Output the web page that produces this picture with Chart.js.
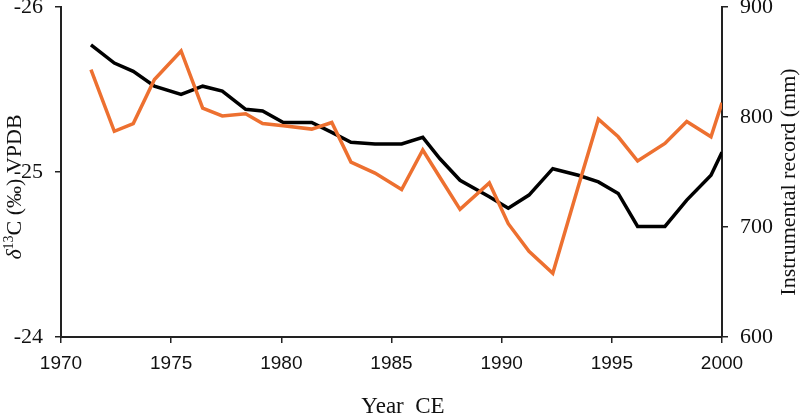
<!DOCTYPE html>
<html>
<head>
<meta charset="utf-8">
<script src="https://cdn.jsdelivr.net/npm/chart.js@4.4.0/dist/chart.umd.min.js"></script>
<style>
    html, body { margin: 0; padding: 0; background: #ffffff; }
    #contenitore { width: 800px; height: 415px; }
</style>
</head>
<body>
<div id="contenitore"><canvas id="grafico" width="800" height="415"></canvas></div>
<script>
// Anni dei campioni (asse X)
const anni = [1971.36, 1972.42, 1973.28, 1974.24, 1975.45, 1976.43, 1977.32, 1978.38, 1979.15, 1980.09,
    1981.38, 1982.29, 1983.16, 1984.25, 1985.46, 1986.42, 1987.20, 1988.11, 1989.44, 1990.30,
    1991.24, 1992.32, 1993.48, 1994.39, 1995.29, 1996.17, 1997.41, 1998.40, 1999.50, 2000.00];

// δ13C (‰) VPDB - linea nera, asse sinistro (invertito)
const delta13C = [-25.77, -25.66, -25.61, -25.52, -25.47, -25.52, -25.49, -25.38, -25.37, -25.30,
    -25.30, -25.24, -25.18, -25.17, -25.17, -25.21, -25.08, -24.95, -24.85, -24.78,
    -24.86, -25.02, -24.98, -24.94, -24.87, -24.67, -24.67, -24.83, -24.98, -25.12];

// Precipitazioni strumentali (mm) - linea arancione, asse destro
const precipitazioni = [843, 787, 794, 834, 860, 808, 801, 803, 794, 792,
    789, 795, 759, 749, 734, 770, 745, 716, 740, 703,
    678, 658, 737, 798, 782, 760, 776, 796, 782, 813];

// Etichette degli assi
const tickAnni = [1970, 1975, 1980, 1985, 1990, 1995, 2000];
const tickDelta = [-26, -25, -24];
const tickMm = [600, 700, 800, 900];

const coloreAssi = '#222222';

// Funzione per impostare i tick da un array
function impostaTick(valori) {
    return function (scale) {
        scale.ticks = valori.map(v => ({ value: v }));
    };
}

// Funzione per fissare le dimensioni degli assi
function fissaDimensione(prop, valore) {
    return function (scale) {
        scale[prop] = valore;
        scale.paddingTop = 0;
        scale.paddingBottom = 0;
        scale.paddingLeft = 0;
        scale.paddingRight = 0;
    };
}

//---[ TITOLI DEGLI ASSI ]---
const titoliAssi = {
    id: 'titoliAssi',
    afterDraw(chart) {
        const ctx = chart.ctx;
        ctx.save();
        ctx.fillStyle = '#111111';
        ctx.font = '23px "Liberation Serif"';
        ctx.textAlign = 'center';
        ctx.textBaseline = 'alphabetic';

        // Titolo asse X
        ctx.fillText('Year  CE', 403, 413);

        // Titolo asse destro
        ctx.save();
        ctx.font = '22px "Liberation Serif"';
        ctx.translate(795, 182);
        ctx.rotate(-Math.PI / 2);
        ctx.fillText('Instrumental record (mm)', 0, 0);
        ctx.restore();

        // Titolo asse sinistro con apice
        ctx.save();
        ctx.translate(21, 187);
        ctx.rotate(-Math.PI / 2);
        ctx.textAlign = 'left';
        const fontNormale = '22px "Liberation Serif"';
        const fontCorsivo = 'italic 22px "Liberation Serif"';
        const fontApice = '14px "Liberation Serif"';
        const pezzo1 = 'δ', pezzo2 = '13', pezzo3 = 'C (‰) VPDB';
        ctx.font = fontCorsivo;
        const w1 = ctx.measureText(pezzo1).width;
        ctx.font = fontApice;
        const w2 = ctx.measureText(pezzo2).width;
        ctx.font = fontNormale;
        const w3 = ctx.measureText(pezzo3).width;
        let x = -(w1 + w2 + w3) / 2;
        ctx.font = fontCorsivo;
        ctx.fillText(pezzo1, x, 0);
        x += w1;
        ctx.font = fontApice;
        ctx.fillText(pezzo2, x, -8);
        x += w2;
        ctx.font = fontNormale;
        ctx.fillText(pezzo3, x, 0);
        ctx.restore();

        ctx.restore();
    }
};

// Prepara i dati per il grafico
const data = {
    datasets: [
        {
            label: 'Instrumental record (mm)',
            data: anni.map((a, i) => ({ x: a, y: precipitazioni[i] })),
            borderColor: '#ED7030',
            borderWidth: 3.5,
            pointRadius: 0,
            fill: false,
            yAxisID: 'yDestro',
            order: 0
        },
        {
            label: 'δ13C (‰) VPDB',
            data: anni.map((a, i) => ({ x: a, y: delta13C[i] })),
            borderColor: '#000000',
            borderWidth: 3.5,
            pointRadius: 0,
            fill: false,
            yAxisID: 'ySinistro',
            order: 1
        }
    ]
};

// Opzioni del grafico
const options = {
    responsive: false,
    animation: false,
    layout: { padding: { top: 7, left: 0, right: 0, bottom: 0 } },
    plugins: {
        legend: { display: false },
        tooltip: { enabled: false }
    },
    scales: {
        x: {
            type: 'linear',
            min: 1970,
            max: 2000,
            afterBuildTicks: impostaTick(tickAnni),
            afterFit: fissaDimensione('height', 78),
            border: { display: true, color: coloreAssi, width: 2 },
            grid: { display: true, drawOnChartArea: false, drawTicks: true, tickLength: 6, color: coloreAssi, lineWidth: 1.5 },
            ticks: {
                color: '#111111',
                padding: 9,
                maxRotation: 0,
                font: { family: '"Liberation Sans"', size: 19 },
                callback: v => String(v)
            }
        },
        ySinistro: {
            type: 'linear',
            position: 'left',
            reverse: true,
            min: -26,
            max: -24,
            afterBuildTicks: impostaTick(tickDelta),
            afterFit: fissaDimensione('width', 61),
            border: { display: true, color: coloreAssi, width: 2 },
            grid: { display: true, drawOnChartArea: false, drawTicks: true, tickLength: 6, color: coloreAssi, lineWidth: 1.5 },
            ticks: {
                color: '#111111',
                padding: 12,
                font: { family: '"Liberation Serif"', size: 22 },
                callback: v => String(v)
            }
        },
        yDestro: {
            type: 'linear',
            position: 'right',
            min: 600,
            max: 900,
            afterBuildTicks: impostaTick(tickMm),
            afterFit: fissaDimensione('width', 78),
            border: { display: true, color: coloreAssi, width: 2 },
            grid: { display: true, drawOnChartArea: false, drawTicks: true, tickLength: 6, color: coloreAssi, lineWidth: 1.5 },
            ticks: {
                color: '#111111',
                padding: 12,
                font: { family: '"Liberation Serif"', size: 22 },
                callback: v => String(v)
            }
        }
    }
};

// Ottieni il contesto del canvas e crea il grafico
const ctx = document.getElementById('grafico').getContext('2d');
new Chart(ctx, {
    type: 'line',
    data: data,
    options: options,
    plugins: [titoliAssi]
});
</script>
</body>
</html>
